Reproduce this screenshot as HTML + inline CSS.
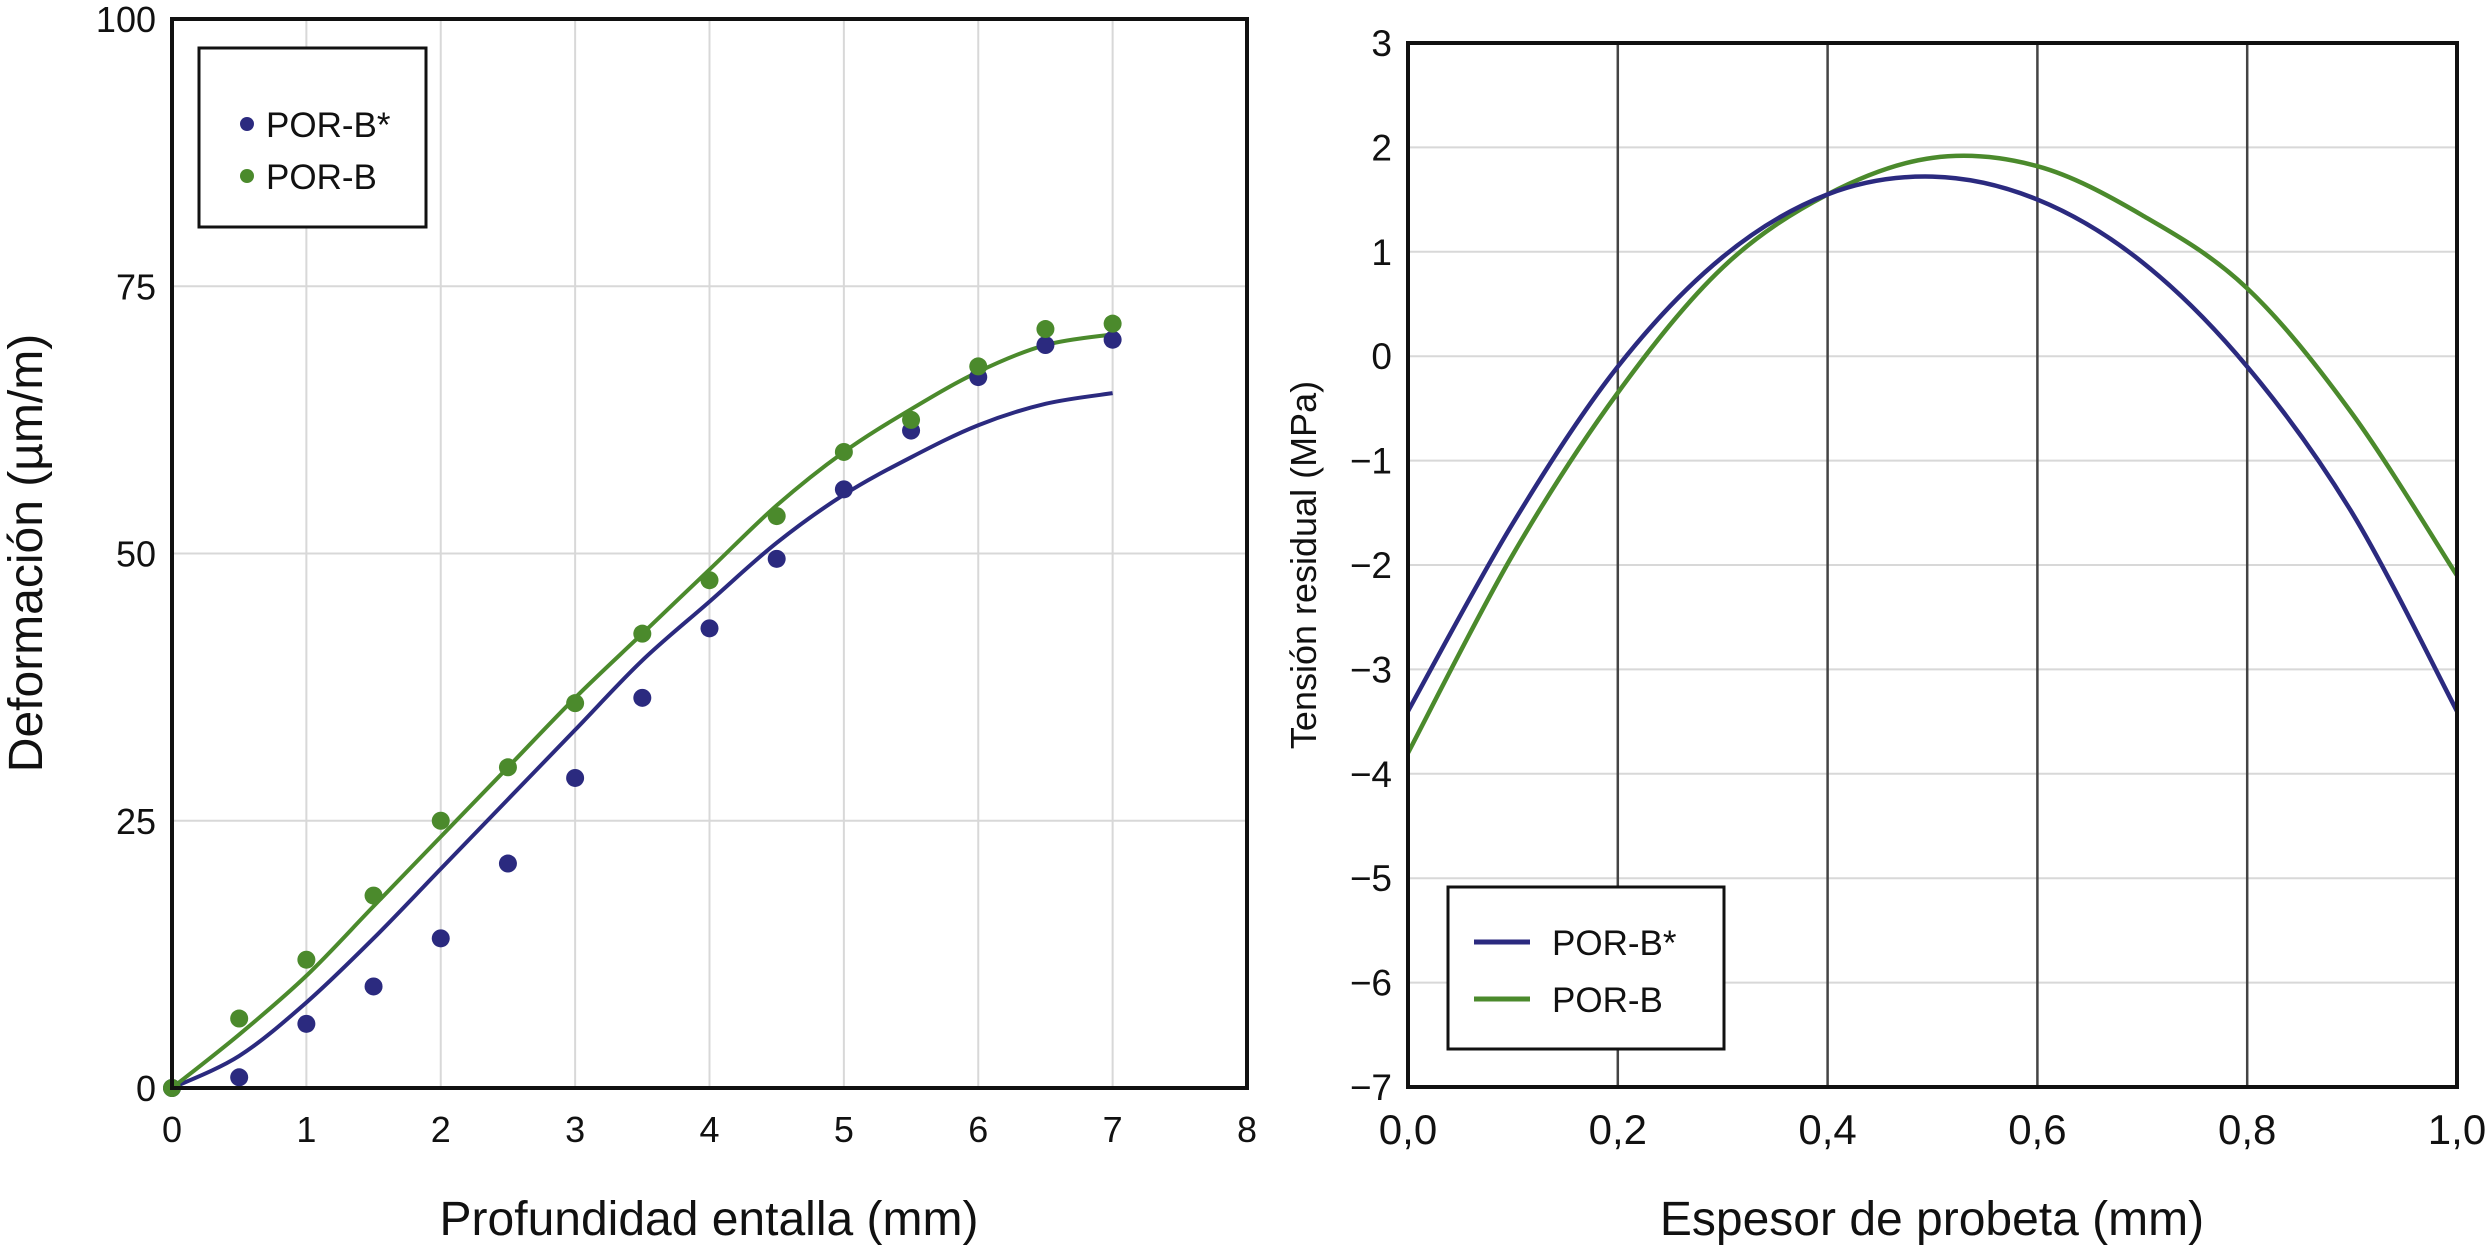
<!DOCTYPE html>
<html><head><meta charset="utf-8"><style>
html,body{margin:0;padding:0;background:#fff;}
svg{display:block;font-family:"Liberation Sans",Arial,sans-serif;}
</style></head><body>
<svg id="c" width="2492" height="1248" viewBox="0 0 2492 1248"></svg>
<script>
// Left chart data
const leftDotX = [0,0.5,1,1.5,2,2.5,3,3.5,4,4.5,5,5.5,6,6.5,7];
const leftBlueDots = [0,1,6,9.5,14,21,29,36.5,43,49.5,56,61.5,66.5,69.5,70];
const leftGreenDots = [0,6.5,12,18,25,30,36,42.5,47.5,53.5,59.5,62.5,67.5,71,71.5];
const leftCurveX = [0,0.5,1,1.5,2,2.5,3,3.5,4,4.5,5,5.5,6,6.5,7];
const leftBlueCurve = [0,3,8,14,20.5,27,33.5,40,45.5,51,55.5,59,62,64,65];
const leftGreenCurve = [0,5,10.5,17,23.5,30,36.5,42.5,48.5,54.5,59.5,63.5,67,69.5,70.5];
const leftXTicks = [0,1,2,3,4,5,6,7,8];
const leftYTicks = [0,25,50,75,100];
// Right chart data
const rightCurveX = [0,0.1,0.2,0.3,0.4,0.5,0.6,0.7,0.8,0.9,1.0];
const rightBlue = [-3.4,-1.6,-0.1,0.95,1.55,1.72,1.5,0.9,-0.1,-1.5,-3.4];
const rightGreen = [-3.8,-1.9,-0.35,0.85,1.55,1.9,1.82,1.35,0.65,-0.55,-2.1];
const rightXTicks = [0,0.2,0.4,0.6,0.8,1.0];
const rightXLabels = ["0,0","0,2","0,4","0,6","0,8","1,0"];
const rightYTicks = [3,2,1,0,-1,-2,-3,-4,-5,-6,-7];
const rightYLabels = ["3","2","1","0","\u22121","\u22122","\u22123","\u22124","\u22125","\u22126","\u22127"];

const BLUE="#2b2a7f", GREEN="#4b8a2c";
const svg=document.getElementById('c');
const NS="http://www.w3.org/2000/svg";
function mk(tag,attrs,parent){const e=document.createElementNS(NS,tag);for(const k in attrs)e.setAttribute(k,attrs[k]);(parent||svg).appendChild(e);return e;}
function txt(s,attrs){const e=mk('text',attrs);e.textContent=s;return e;}
function smooth(pts){let d="M"+pts[0][0]+","+pts[0][1];for(let i=0;i<pts.length-1;i++){const p0=pts[Math.max(0,i-1)],p1=pts[i],p2=pts[i+1],p3=pts[Math.min(pts.length-1,i+2)];
const c1x=p1[0]+(p2[0]-p0[0])/6,c1y=p1[1]+(p2[1]-p0[1])/6,c2x=p2[0]-(p3[0]-p1[0])/6,c2y=p2[1]-(p3[1]-p1[1])/6;d+=" C"+c1x+","+c1y+" "+c2x+","+c2y+" "+p2[0]+","+p2[1];}return d;}

// ---- Left chart ----
const L={x0:172,x1:1247,y0:1088,y1:19};
const lx=v=>L.x0+(v-0)/8*(L.x1-L.x0);
const ly=v=>L.y0-(v-0)/100*(L.y0-L.y1);
leftXTicks.forEach(t=>{const g=mk('line',{x1:lx(t),x2:lx(t),y1:L.y1,y2:L.y0,stroke:"#d8d8d8","stroke-width":2});

const t2=txt(String(t),{x:lx(t),y:1142,"font-size":36,"text-anchor":"middle",fill:"#111"});
});
leftYTicks.forEach(t=>{const g=mk('line',{x1:L.x0,x2:L.x1,y1:ly(t),y2:ly(t),stroke:"#d8d8d8","stroke-width":2});

const t2=txt(String(t),{x:156,y:ly(t)+13,"font-size":36,"text-anchor":"end",fill:"#111"});
});
function lineL(xs,ys,col,name){const p=mk('path',{d:smooth(xs.map((x,i)=>[lx(x),ly(ys[i])])),fill:"none",stroke:col,"stroke-width":4});
}
lineL(leftCurveX,leftBlueCurve,BLUE,'left-blue-curve');
lineL(leftCurveX,leftGreenCurve,GREEN,'left-green-curve');
function dots(xs,ys,col,name){xs.forEach((x,i)=>{const c=mk('circle',{cx:lx(x),cy:ly(ys[i]),r:9,fill:col});
});}
dots(leftDotX,leftBlueDots,BLUE,'left-blue-dot');
dots(leftDotX,leftGreenDots,GREEN,'left-green-dot');
const lf=mk('rect',{x:L.x0,y:L.y1,width:L.x1-L.x0,height:L.y0-L.y1,fill:"none",stroke:"#111","stroke-width":4});

// left legend
const lg=mk('rect',{x:199,y:48,width:227,height:179,fill:"#fff",stroke:"#111","stroke-width":3});

mk('circle',{cx:247,cy:124,r:7,fill:BLUE,});
mk('circle',{cx:247,cy:176,r:7,fill:GREEN,});
txt("POR-B*",{x:266,y:137,"font-size":35,fill:"#111",});
txt("POR-B",{x:266,y:189,"font-size":35,fill:"#111",});
txt("Profundidad entalla (mm)",{x:709,y:1235,"font-size":48,"text-anchor":"middle",fill:"#111",});
txt("Deformación (µm/m)",{x:0,y:0,"font-size":48,"text-anchor":"middle",fill:"#111",transform:"translate(42,553) rotate(-90)",});

// ---- Right chart ----
const R={x0:1408,x1:2457,y0:1087,y1:43};
const rx=v=>R.x0+v*(R.x1-R.x0);
const ry=v=>R.y1+(3-v)/10*(R.y0-R.y1);
rightYTicks.forEach((t,i)=>{const g=mk('line',{x1:R.x0,x2:R.x1,y1:ry(t),y2:ry(t),stroke:"#d8d8d8","stroke-width":2});

const t2=txt(rightYLabels[i],{x:1392,y:ry(t)+13,"font-size":37,"text-anchor":"end",fill:"#111"});
});
rightXTicks.forEach((t,i)=>{const g=mk('line',{x1:rx(t),x2:rx(t),y1:R.y1,y2:R.y0,stroke:"#444","stroke-width":2.5});

const t2=txt(rightXLabels[i],{x:rx(t),y:1144,"font-size":42,"text-anchor":"middle",fill:"#111"});
});
function lineR(ys,col,name){const p=mk('path',{d:smooth(rightCurveX.map((x,i)=>[rx(x),ry(ys[i])])),fill:"none",stroke:col,"stroke-width":4.5});
}
lineR(rightGreen,GREEN,'right-green-curve');
lineR(rightBlue,BLUE,'right-blue-curve');
const rf=mk('rect',{x:R.x0,y:R.y1,width:R.x1-R.x0,height:R.y0-R.y1,fill:"none",stroke:"#111","stroke-width":4});

const rg=mk('rect',{x:1448,y:887,width:276,height:162,fill:"#fff",stroke:"#111","stroke-width":3});

mk('line',{x1:1474,x2:1530,y1:942,y2:942,stroke:BLUE,"stroke-width":5,});
mk('line',{x1:1474,x2:1530,y1:999,y2:999,stroke:GREEN,"stroke-width":5,});
txt("POR-B*",{x:1552,y:955,"font-size":35,fill:"#111",});
txt("POR-B",{x:1552,y:1012,"font-size":35,fill:"#111",});
txt("Espesor de probeta (mm)",{x:1932,y:1235,"font-size":48,"text-anchor":"middle",fill:"#111",});
txt("Tensión residual (MPa)",{x:0,y:0,"font-size":36,"text-anchor":"middle",fill:"#111",transform:"translate(1316,565) rotate(-90)",});
</script>
</body></html>
